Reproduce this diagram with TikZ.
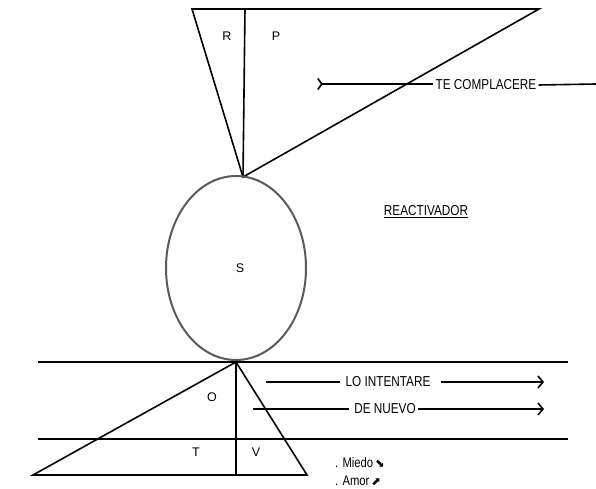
\documentclass[tikz,border=0pt]{standalone}
\usepackage{fontspec}
\setmainfont{Liberation Sans}
\newfontfamily\symfont{DejaVu Sans}
\definecolor{ringgray}{RGB}{90,90,90}
\usetikzlibrary{arrows.meta,positioning,shapes.geometric}
\newcommand{\tallword}[1]{\scalebox{0.98}[1.2]{#1}}

\begin{document}
\begin{tikzpicture}[x=1pt, y=-1pt,
    edge/.style={line width=1.6pt, black},
    flow/.style={-{Straight Barb[length=5pt, width=12pt]}, line width=1.6pt},
    tag/.style={font=\fontsize{12}{14}\selectfont, inner sep=2pt},
    letter/.style={font=\fontsize{12.5}{14}\selectfont, inner sep=1pt}
  ]
    \useasboundingbox (0,0) rectangle (596,489);

    % Upper triangle
    \coordinate (tl) at (192,9);
    \coordinate (tm) at (245,9);
    \coordinate (tr) at (539,9);
    \coordinate (tip) at (243,177);
    \draw[edge] (tl) -- (tr) -- (tip) -- cycle;
    \draw[edge] (tm) -- (tip);
    \node[letter] (r) at (227,36) {R};
    \node[letter] (p) at (276,36) {P};

    % Circle
    \node[ellipse, draw=ringgray, line width=2pt, minimum width=140, minimum height=184,
      letter] (s) at (236,268) {};
    \node[letter] (slab) at (240,268) {S};

    % Horizontal bands
    \coordinate (h1a) at (38,362);
    \coordinate (h1b) at (568,362);
    \coordinate (h2a) at (38,439);
    \coordinate (h2b) at (568,439);
    \draw[edge] (h1a) -- (h1b);
    \draw[edge] (h2a) -- (h2b);

    % Lower triangle
    \coordinate (bapex) at (236,362);
    \coordinate (bl) at (33,475);
    \coordinate (bm) at (236,475);
    \coordinate (br) at (307,475);
    \draw[edge] (bapex) -- (bl) -- (br) -- cycle;
    \draw[edge] (bapex) -- (bm);
    \node[letter] (o) at (212,397) {O};
    \node[letter] (t) at (196,452) {T};
    \node[letter] (v) at (256,452) {V};

    % Labelled lines
    \node[tag] (comp) at (486,85) {\tallword{TE COMPLACERE}};
    \coordinate (compa) at (317,84);
    \coordinate (compb) at (596,84);
    \draw[edge, {Straight Barb[reversed, length=4pt, width=11pt]}-] (compa) -- (compa -| comp.west);
    \draw[edge] (comp.east) -- (compb);

    \node[tag] (react) at (426,212) {\underline{\tallword{REACTIVADOR}}};

    \node[tag] (lo) at (388,382) {\tallword{LO INTENTARE}};
    \coordinate (loa) at (266,382);
    \coordinate (lob) at (544,382);
    \draw[edge] (loa) -- ([xshift=-3pt]lo.west);
    \draw[flow] ([xshift=8pt]lo.east) -- (lob);

    \node[tag] (nuevo) at (385,409) {\tallword{DE NUEVO}};
    \coordinate (nuevoa) at (253,409);
    \coordinate (nuevob) at (544,409);
    \draw[edge] (nuevoa) -- ([xshift=-3pt]nuevo.west);
    \draw[flow] (nuevo.east) -- (nuevob);

    % Emotions
    \node[tag, anchor=west, font=\fontsize{11.5}{13}\selectfont] (miedo) at (333,463)
      {\tallword{. Miedo}\,{\symfont ⬊}};
    \node[tag, anchor=west, font=\fontsize{11.5}{13}\selectfont] (amor) at (333,481)
      {\tallword{. Amor}\,{\symfont ⬈}};
  \end{tikzpicture}
\end{document}
